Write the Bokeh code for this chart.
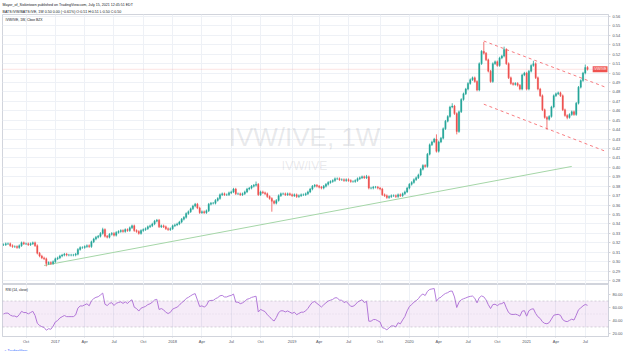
import numpy as np
import pandas as pd
from bokeh.plotting import figure
from bokeh.layouts import column
from bokeh.models import (Range1d, FixedTicker, Span, Label, BoxAnnotation,
                          ColumnDataSource, NumeralTickFormatter, Title)
from bokeh.embed import file_html
from bokeh.resources import INLINE

# ---------------- data ----------------
START = "2016-07-25"          # first weekly bar
CLOSES = [
    0.318, 0.319, 0.319, 0.317, 0.316, 0.316, 0.315, 0.317, 0.320, 0.319,
    0.319, 0.318, 0.319, 0.320, 0.317, 0.309, 0.306, 0.304, 0.303, 0.298,
    0.299, 0.298, 0.300, 0.303, 0.304, 0.306, 0.307, 0.308, 0.307, 0.307,
    0.307, 0.307, 0.308, 0.313, 0.315, 0.315, 0.316, 0.317, 0.316, 0.321,
    0.324, 0.326, 0.327, 0.330, 0.334, 0.327, 0.326, 0.329, 0.330, 0.328,
    0.331, 0.332, 0.333, 0.332, 0.334, 0.333, 0.336, 0.338, 0.333, 0.332,
    0.330, 0.333, 0.334, 0.335, 0.337, 0.338, 0.340, 0.343, 0.344, 0.337,
    0.338, 0.337, 0.335, 0.334, 0.335, 0.338, 0.339, 0.340, 0.342, 0.345,
    0.347, 0.351, 0.353, 0.356, 0.359, 0.361, 0.357, 0.352, 0.353, 0.352,
    0.354, 0.361, 0.362, 0.362, 0.365, 0.367, 0.371, 0.372, 0.371, 0.371,
    0.373, 0.374, 0.377, 0.372, 0.372, 0.371, 0.372, 0.374, 0.377, 0.378,
    0.380, 0.381, 0.382, 0.371, 0.374, 0.373, 0.372, 0.369, 0.367, 0.364,
    0.362, 0.365, 0.370, 0.372, 0.372, 0.371, 0.372, 0.371, 0.370, 0.371,
    0.369, 0.370, 0.371, 0.371, 0.372, 0.374, 0.377, 0.380, 0.381, 0.380,
    0.379, 0.378, 0.380, 0.382, 0.384, 0.385, 0.386, 0.388, 0.388, 0.387,
    0.387, 0.386, 0.387, 0.386, 0.385, 0.385, 0.386, 0.388, 0.389, 0.390,
    0.389, 0.390, 0.378, 0.378, 0.379, 0.379, 0.378, 0.377, 0.371, 0.370,
    0.368, 0.369, 0.370, 0.370, 0.369, 0.371, 0.370, 0.372, 0.374, 0.378,
    0.382, 0.384, 0.387, 0.389, 0.392, 0.398, 0.402, 0.401, 0.414, 0.424,
    0.427, 0.430, 0.417, 0.427, 0.431, 0.441, 0.449, 0.454, 0.464, 0.465,
    0.457, 0.438, 0.459, 0.472, 0.478, 0.483, 0.489, 0.493, 0.495, 0.491,
    0.482, 0.510, 0.523, 0.521, 0.514, 0.502, 0.491, 0.510, 0.512, 0.508,
    0.516, 0.518, 0.525, 0.510, 0.495, 0.489, 0.488, 0.489, 0.487, 0.483,
    0.498, 0.500, 0.483, 0.502, 0.508, 0.510, 0.495, 0.483, 0.476, 0.461,
    0.453, 0.451, 0.454, 0.464, 0.476, 0.478, 0.479, 0.476, 0.461, 0.455,
    0.453, 0.456, 0.459, 0.456, 0.468, 0.485, 0.492, 0.500, 0.506, 0.504,
]
OPEN0 = 0.318
# notable wicks that are visible in the picture
HIGH_READ = {44: 0.336, 112: 0.385, 161: 0.392, 192: 0.435, 199: 0.468,
             213: 0.533, 222: 0.528, 235: 0.513, 258: 0.509}
LOW_READ = {19: 0.295, 119: 0.353, 201: 0.435, 241: 0.440, 250: 0.451}

PRICE_TICKS = [round(0.28 + 0.01 * k, 2) for k in range(29)]
RSI_TICKS = [20, 40, 60, 80]
TICK_MONTHS = ["2016-10-01", "2017-01-01", "2017-04-01", "2017-07-01", "2017-10-01",
               "2018-01-01", "2018-04-01", "2018-07-01", "2018-10-01",
               "2019-01-01", "2019-04-01", "2019-07-01", "2019-10-01",
               "2020-01-01", "2020-04-01", "2020-07-01", "2020-10-01",
               "2021-01-01", "2021-04-01", "2021-07-01"]
TICK_LABELS = ["Oct", "2017", "Apr", "Jul", "Oct", "2018", "Apr", "Jul", "Oct",
               "2019", "Apr", "Jul", "Oct", "2020", "Apr", "Jul", "Oct",
               "2021", "Apr", "Jul"]
GREEN_LINE = ([18, 252], [0.296, 0.401])
CHANNEL_UP = ([213, 267], [0.534, 0.485])
CHANNEL_DN = ([213, 267], [0.467, 0.417])
LAST_PRICE = 0.504

# ---------------- styles ----------------
UP = "#26a69a"
DOWN = "#ef5350"
WICK = 0.0013
FONT = "Liberation Sans"
TXT = "#50535e"
GRID = "#eef1f6"
BORDER = "#d1d4dc"

# ---------------- derived ----------------
n = len(CLOSES)
dates = pd.date_range(START, periods=n, freq="7D")
idx = np.arange(n)
closes = np.array(CLOSES)
opens = np.concatenate([[OPEN0], closes[:-1]])
highs = np.maximum(opens, closes) + WICK
lows = np.minimum(opens, closes) - WICK
for k, v in HIGH_READ.items():
    highs[k] = v
for k, v in LOW_READ.items():
    lows[k] = v
colors = np.where(closes >= opens, UP, DOWN)
src = ColumnDataSource(dict(x=idx, o=opens, c=closes, h=highs, l=lows,
                            top=np.maximum(opens, closes),
                            bot=np.minimum(opens, closes), col=colors))

tick_idx = [int(np.argmax(dates >= pd.Timestamp(m))) for m in TICK_MONTHS]
overrides = {t: lab for t, lab in zip(tick_idx, TICK_LABELS)}

# RSI(14) from the closes (Wilder smoothing)
RSI_LEN = 14
ag = al = 0.0015
rsi = []
prev = closes[0]
for c in closes:
    d = c - prev
    prev = c
    ag = (ag * (RSI_LEN - 1) + max(d, 0)) / RSI_LEN
    al = (al * (RSI_LEN - 1) + max(-d, 0)) / RSI_LEN
    rsi.append(100 - 100 / (1 + ag / al) if al > 0 else 100.0)

xr = Range1d(-0.44, 268.3)


def style_axis(ax, standoff=2, tick=2):
    ax.major_label_text_font_size = "4px"
    ax.major_label_text_font = FONT
    ax.major_label_text_color = TXT
    ax.major_tick_out = tick
    ax.major_tick_in = 0
    ax.minor_tick_out = 0
    ax.minor_tick_in = 0
    ax.major_label_standoff = standoff
    ax.axis_line_color = BORDER
    ax.major_tick_line_color = BORDER


# ---------------- main pane ----------------
p = figure(frame_width=606, frame_height=270, x_range=xr,
           y_range=Range1d(0.2758, 0.5621), y_axis_location="right",
           output_backend="svg", toolbar_location=None,
           min_border_left=2, min_border_right=16, min_border_top=13,
           min_border_bottom=0, outline_line_color=BORDER,
           background_fill_color="white", border_fill_color="white")
p.xaxis.visible = False
p.xgrid.ticker = FixedTicker(ticks=tick_idx)
p.xgrid.grid_line_color = GRID
p.ygrid.grid_line_color = GRID
p.yaxis.ticker = FixedTicker(ticks=PRICE_TICKS)
p.yaxis.formatter = NumeralTickFormatter(format="0.00")
style_axis(p.yaxis[0])

# header (two lines above the chart)
p.add_layout(Title(text="BATS:IVW/BATS:IVE, 1W  0.50  0.00 (\u22120.61%)  O:0.51 H:0.51 L:0.50 C:0.50",
                   align="left", text_font=FONT, text_font_size="3.6px",
                   text_font_style="normal", text_color="#131722",
                   standoff=1, offset=0), "above")
p.add_layout(Title(text="Mayor_of_Sixkintown published on TradingView.com, July 15, 2021 12:45:51 EDT",
                   align="left", text_font=FONT, text_font_size="3.6px",
                   text_font_style="normal", text_color="#131722",
                   standoff=1, offset=0), "above")

# watermark
p.add_layout(Label(x=302, y=148, x_units="screen", y_units="screen",
                   text="IVW/IVE, 1W", text_font=FONT, text_font_size="26px",
                   text_color="#787b86", text_alpha=0.17, text_align="center",
                   text_baseline="middle"))
p.add_layout(Label(x=302, y=119, x_units="screen", y_units="screen",
                   text="IVW/IVE", text_font=FONT, text_font_size="12px",
                   text_color="#787b86", text_alpha=0.17, text_align="center",
                   text_baseline="middle"))

# trend lines
p.line(GREEN_LINE[0], GREEN_LINE[1], line_color="#a5d6a7", line_width=1)
p.line(CHANNEL_UP[0], CHANNEL_UP[1], line_color="#f77c80", line_width=1, line_dash="3 3")
p.line(CHANNEL_DN[0], CHANNEL_DN[1], line_color="#f77c80", line_width=1, line_dash="3 3")
p.add_layout(Span(location=LAST_PRICE, dimension="width", line_color=DOWN,
                  line_alpha=0.45, line_width=0.7, line_dash="1 1"))

# candles
p.segment(x0="x", y0="l", x1="x", y1="h", color="col", line_width=0.8, source=src)
p.vbar(x="x", width=0.62, top="top", bottom="bot", fill_color="col",
       line_color="col", line_width=0.3, source=src)

# legend and last-price tag
p.add_layout(Label(x=3, y=265, x_units="screen", y_units="screen",
                   text="IVW/IVE, 1W, Cboe BZX", text_font=FONT,
                   text_font_size="3.4px", text_color="#131722",
                   text_baseline="middle"))
p.add_layout(Label(x=605, y=LAST_PRICE, x_units="screen", y_units="data",
                   text="IVW/IVE", text_font=FONT, text_font_size="3.4px",
                   text_color="white", text_align="right", text_baseline="middle",
                   background_fill_color=DOWN, border_line_color=None,
                   padding=1))

# ---------------- RSI pane ----------------
r = figure(frame_width=606, frame_height=52, x_range=xr,
           y_range=Range1d(15.4, 95.4), y_axis_location="right",
           output_backend="svg", toolbar_location=None,
           min_border_left=2, min_border_right=16, min_border_top=0,
           min_border_bottom=14, outline_line_color=BORDER,
           background_fill_color="white", border_fill_color="white")
r.xaxis.ticker = FixedTicker(ticks=tick_idx)
r.xaxis.major_label_overrides = overrides
r.xgrid.ticker = FixedTicker(ticks=tick_idx)
r.xgrid.grid_line_color = GRID
r.ygrid.grid_line_color = None
r.yaxis.ticker = FixedTicker(ticks=RSI_TICKS)
r.yaxis.formatter = NumeralTickFormatter(format="0.00")
style_axis(r.xaxis[0], standoff=1, tick=1)
style_axis(r.yaxis[0])

r.add_layout(BoxAnnotation(bottom=30, top=70, fill_color="#9c27b0",
                           fill_alpha=0.09, line_color=None))
r.add_layout(Span(location=70, dimension="width", line_color="#787b86",
                  line_alpha=0.5, line_width=0.6, line_dash="2 2"))
r.add_layout(Span(location=30, dimension="width", line_color="#787b86",
                  line_alpha=0.5, line_width=0.6, line_dash="2 2"))
r.add_layout(Span(location=50, dimension="width", line_color="#787b86",
                  line_alpha=0.25, line_width=0.6, line_dash="1 2"))
r.line(idx, rsi, line_color="#b57edc", line_width=1)
r.add_layout(Label(x=3, y=47, x_units="screen", y_units="screen",
                   text="RSI (14, close)", text_font=FONT, text_font_size="3.4px",
                   text_color="#131722", text_baseline="middle"))
r.add_layout(Title(text="\u2601 TradingView", align="left", text_font=FONT,
                   text_font_size="3.6px", text_font_style="normal",
                   text_color="#2962ff", standoff=0, offset=0), "below")

layout = column(p, r, spacing=0)
open("out.html", "w").write(file_html(layout, INLINE))
